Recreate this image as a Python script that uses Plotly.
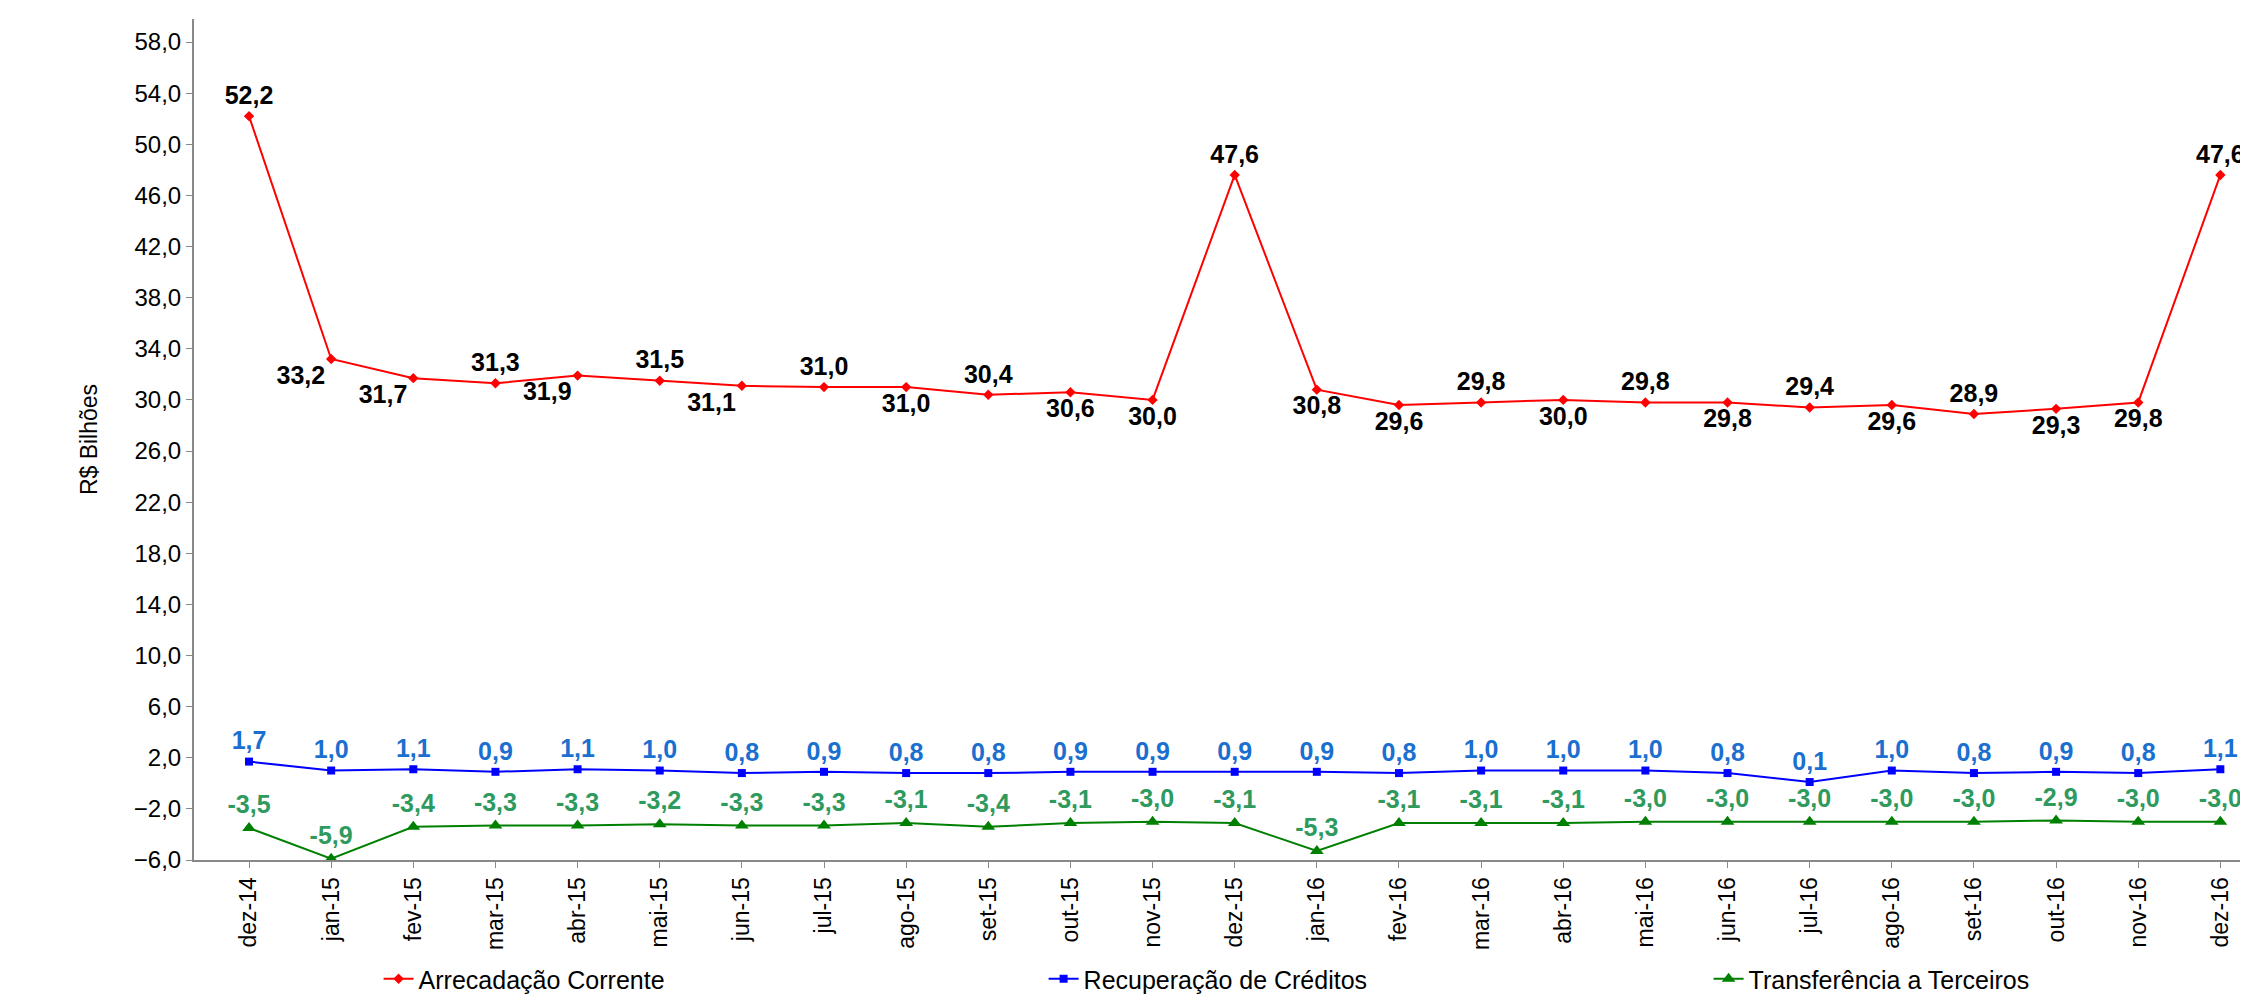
import plotly.graph_objects as go

cats = ["dez-14","jan-15","fev-15","mar-15","abr-15","mai-15","jun-15","jul-15","ago-15","set-15","out-15","nov-15","dez-15",
        "jan-16","fev-16","mar-16","abr-16","mai-16","jun-16","jul-16","ago-16","set-16","out-16","nov-16","dez-16"]
arrec = [52.2,33.2,31.7,31.3,31.9,31.5,31.1,31.0,31.0,30.4,30.6,30.0,47.6,30.8,29.6,29.8,30.0,29.8,29.8,29.4,29.6,28.9,29.3,29.8,47.6]
recup = [1.7,1.0,1.1,0.9,1.1,1.0,0.8,0.9,0.8,0.8,0.9,0.9,0.9,0.9,0.8,1.0,1.0,1.0,0.8,0.1,1.0,0.8,0.9,0.8,1.1]
transf = [-3.5,-5.9,-3.4,-3.3,-3.3,-3.2,-3.3,-3.3,-3.1,-3.4,-3.1,-3.0,-3.1,-5.3,-3.1,-3.1,-3.1,-3.0,-3.0,-3.0,-3.0,-3.0,-2.9,-3.0,-3.0]
arrec_pos = ["top center","bottom left","bottom left","top center","bottom left","top center","bottom left","top center","bottom center",
             "top center","bottom center","bottom center","top center","bottom center","bottom center","top center","bottom center",
             "top center","bottom center","top center","bottom center","top center","bottom center","bottom center","top center"]

x = list(range(len(cats)))
fmt = lambda v: f"{v:.1f}".replace(".", ",")
fig = go.Figure()
fig.add_trace(go.Scatter(x=x, y=arrec, name="Arrecadação Corrente", mode="lines+markers+text", cliponaxis=False,
    line=dict(color="#ff0000", width=2), marker=dict(symbol="diamond", size=8, color="#ff0000"),
    text=[fmt(v) for v in arrec], textposition=arrec_pos,
    textfont=dict(family="Liberation Sans", size=25, color="black", weight="bold")))
fig.add_trace(go.Scatter(x=x, y=recup, name="Recuperação de Créditos", mode="lines+markers+text", cliponaxis=False,
    line=dict(color="#0000ff", width=2), marker=dict(symbol="square", size=8, color="#0000ff"),
    text=[fmt(v) for v in recup], textposition="top center",
    textfont=dict(family="Liberation Sans", size=25, color="#1a6fd0", weight="bold")))
fig.add_trace(go.Scatter(x=x, y=transf, name="Transferência a Terceiros", mode="lines+markers+text", cliponaxis=False,
    line=dict(color="#008000", width=2), marker=dict(symbol="triangle-up", size=12, color="#008000"),
    text=[fmt(v) for v in transf], textposition="top center",
    textfont=dict(family="Liberation Sans", size=25, color="#2e9a5e", weight="bold")))

fig.update_layout(width=2248, height=994, plot_bgcolor="white", paper_bgcolor="white",
    margin=dict(l=186, r=11, t=11, b=142, autoexpand=False), separators=",.",
    font=dict(family="Liberation Sans", size=22, color="black"),
    legend=dict(orientation="h", x=0.09, xanchor="left", yref="container", y=0.0, yanchor="bottom",
                bgcolor="rgba(0,0,0,0)", font=dict(size=25), entrywidth=620, entrywidthmode="pixels"),
    showlegend=True)
fig.update_xaxes(range=[-0.67, 24.3], tickvals=x, ticktext=cats, tickangle=-90, showgrid=False, automargin=False,
    showline=True, linecolor="#888", linewidth=2, ticks="outside", tickcolor="#888", ticklen=6,
    tickfont=dict(size=23))
fig.update_yaxes(range=[-6, 59.8], tickvals=list(range(-6, 59, 4)), tickformat=".1f", showgrid=False,
    showline=True, linecolor="#888", linewidth=2, ticks="outside", tickcolor="#888", ticklen=6, automargin=False,
    zeroline=False, title=dict(text="R$ Bilhões", font=dict(size=23), standoff=30), tickfont=dict(size=24))
fig.write_html("out.html")
